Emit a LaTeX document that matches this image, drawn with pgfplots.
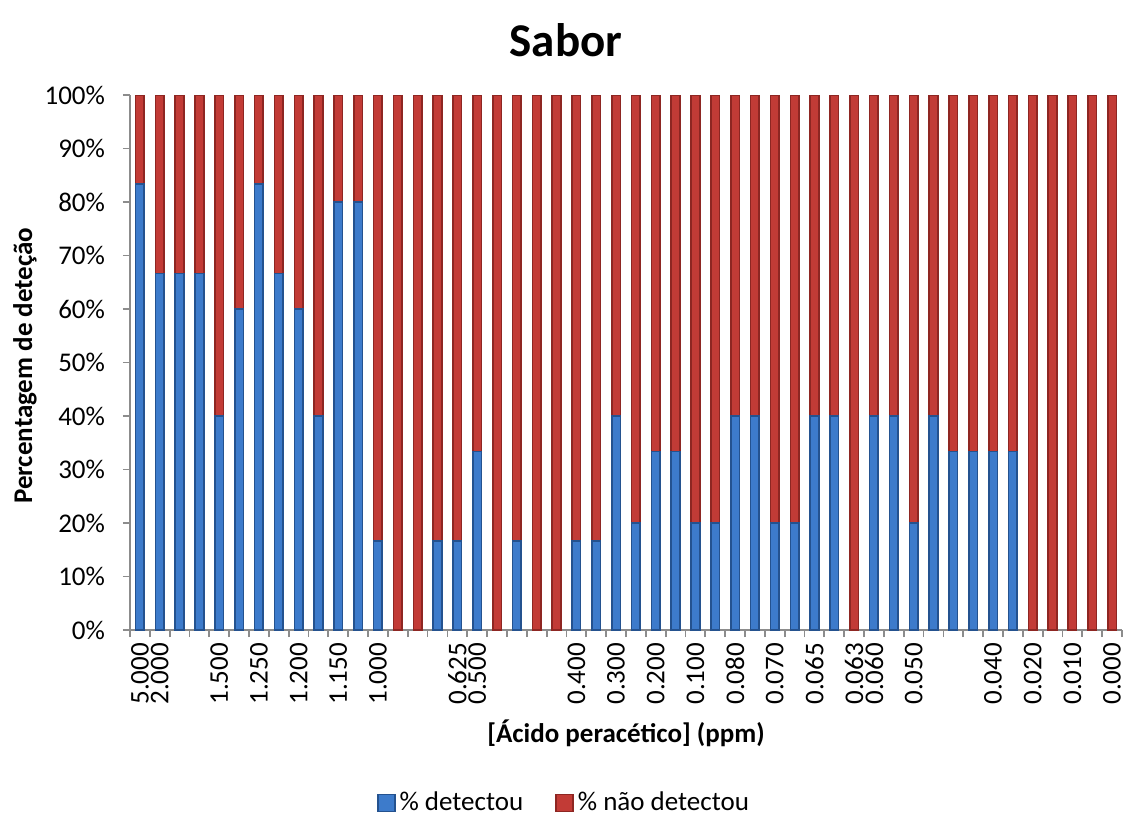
\documentclass[border=0pt]{standalone}
\usepackage{pgfplots}
\pgfplotsset{compat=1.18}
\usepackage{pgfplotstable}
\usepackage{fontspec}
\setmainfont{Carlito}

\definecolor{blueMid}{HTML}{3D7BCB}
\definecolor{blueEdge}{HTML}{24528F}
\definecolor{redMid}{HTML}{C23B36}
\definecolor{redEdge}{HTML}{8E2622}
\definecolor{axisGray}{HTML}{8C8C8C}

% x = position of the category, det = % detectou, nao = % nao detectou
\pgfplotstableread{
x det nao
0 83.33 16.67
1 66.67 33.33
2 66.67 33.33
3 66.67 33.33
4 40 60
5 60 40
6 83.33 16.67
7 66.67 33.33
8 60 40
9 40 60
10 80 20
11 80 20
12 16.67 83.33
13 0 100
14 0 100
15 16.67 83.33
16 16.67 83.33
17 33.33 66.67
18 0 100
19 16.67 83.33
20 0 100
21 0 100
22 16.67 83.33
23 16.67 83.33
24 40 60
25 20 80
26 33.33 66.67
27 33.33 66.67
28 20 80
29 20 80
30 40 60
31 40 60
32 20 80
33 20 80
34 40 60
35 40 60
36 0 100
37 40 60
38 40 60
39 20 80
40 40 60
41 33.33 66.67
42 33.33 66.67
43 33.33 66.67
44 33.33 66.67
45 0 100
46 0 100
47 0 100
48 0 100
49 0 100
}\sabor

\begin{document}
\begin{tikzpicture}
\useasboundingbox (0,0) rectangle (562.5pt,408pt);
\node[font=\fontsize{23.5}{28}\selectfont\bfseries] at (283pt,388pt) {Sabor};
\begin{axis}[
    at={(65pt,93pt)}, anchor=south west,
    width=496pt, height=267.5pt,
    scale only axis,
    ybar stacked,
    bar width=4.3pt,
    xmin=-0.5, xmax=49.5,
    ymin=0, ymax=100,
    axis lines*=left,
    axis line style={axisGray, line width=0.9pt},
    every tick/.style={axisGray, line width=0.9pt},
    tick align=outside,
    major tick length=3.5pt,
    ytick={0,10,...,100},
    yticklabel={\pgfmathprintnumber{\tick}\%},
    yticklabel style={xshift=-5.5pt},
    /pgf/number format/assume math mode=true,
    xtick={-0.5,0.5,...,49.5},
    xticklabels={},
    extra x ticks={0,1,4,6,8,10,12,16,17,22,24,26,28,30,32,34,36,37,39,43,45,47,49},
    extra x tick labels={5.000,2.000,1.500,1.250,1.200,1.150,1.000,0.625,0.500,0.400,0.300,0.200,0.100,0.080,0.070,0.065,0.063,0.060,0.050,0.040,0.020,0.010,0.000},
    extra x tick style={major tick length=0pt,
        xticklabel style={rotate=90, anchor=east, xshift=-3pt}},
    tick label style={font=\fontsize{13.5}{16}\selectfont},
    xlabel={[Ácido peracético] (ppm)},
    ylabel={Percentagem de deteção},
    label style={font=\fontsize{13.5}{16}\selectfont\bfseries},
    xlabel style={at={(axis description cs:0.5,-0.1925)}, anchor=center},
    ylabel style={at={(axis description cs:-0.1058,0.494)}, anchor=center, rotate=0},
    area legend,
    legend columns=2,
    legend style={draw=none, fill=none, at={(0.4385,-0.3234)}, anchor=center,
        font=\fontsize{13.5}{16}\selectfont, /tikz/every even column/.append style={column sep=14pt}},
    legend image code/.code={\filldraw[#1] (0pt,-4.25pt) rectangle (8.5pt,4.25pt);},
]
\addplot[fill=blueMid, draw=blueEdge, line width=0.8pt] table[x=x, y=det] {\sabor};
\addplot[fill=redMid, draw=redEdge, line width=0.8pt] table[x=x, y=nao] {\sabor};
\legend{\% detectou, \% não detectou}
\end{axis}
\end{tikzpicture}
\end{document}
